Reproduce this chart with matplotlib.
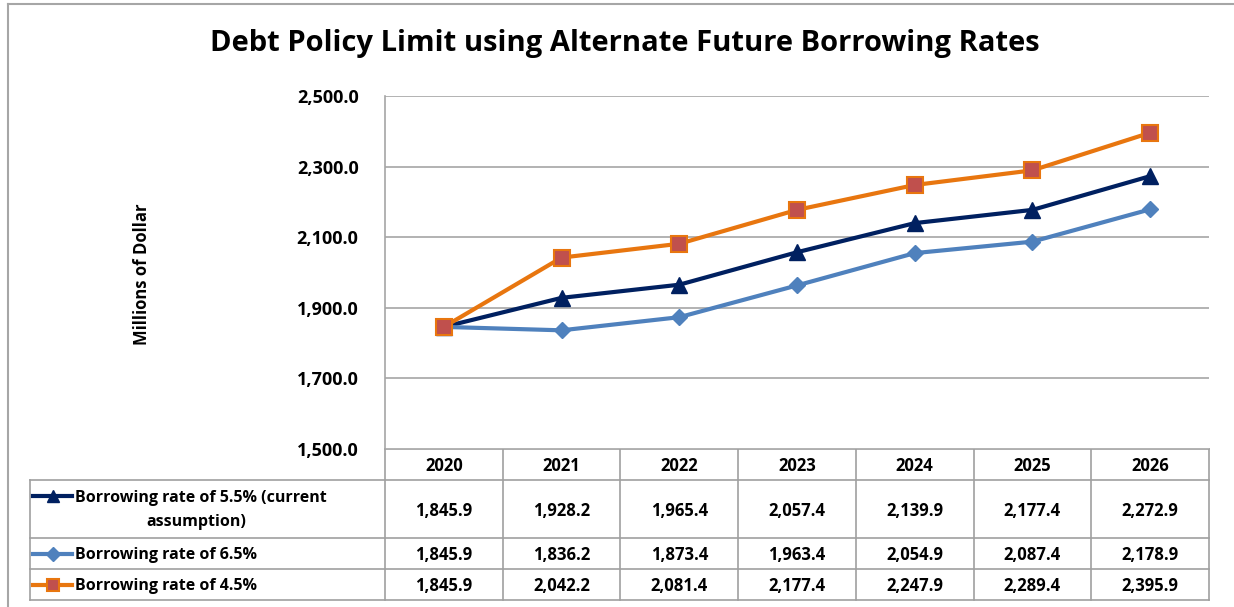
import matplotlib
matplotlib.use('Agg')
from matplotlib import pyplot as plt
from matplotlib.lines import Line2D
import numpy as np

plt.rcParams['font.family'] = ['Open Sans', 'DejaVu Sans']
plt.rcParams['font.weight'] = 'bold'

years = ['2020', '2021', '2022', '2023', '2024', '2025', '2026']
rate_55 = [1845.9, 1928.2, 1965.4, 2057.4, 2139.9, 2177.4, 2272.9]
rate_65 = [1845.9, 1836.2, 1873.4, 1963.4, 2054.9, 2087.4, 2178.9]
rate_45 = [1845.9, 2042.2, 2081.4, 2177.4, 2247.9, 2289.4, 2395.9]
labels = ['Borrowing rate of 5.5% (current\nassumption)',
          'Borrowing rate of 6.5%',
          'Borrowing rate of 4.5%']
y_ticks = [1500, 1700, 1900, 2100, 2300, 2500]

W, H = 1234, 607
fig = plt.figure(figsize=(W / 100, H / 100), dpi=100)

# whole-figure pixel axes for border and table
bg = fig.add_axes([0, 0, 1, 1])
bg.set_xlim(0, W)
bg.set_ylim(H, 0)
bg.axis('off')

grey = '#a6a6a6'
bg.plot([8, W + 5, W + 5, 8, 8], [4, 4, H + 5, H + 5, 4], color=grey, lw=1.5, clip_on=False)

# plot area
x0, x1, ytop, ybot = 385, 1209, 96, 449
ax = fig.add_axes([x0 / W, 1 - ybot / H, (x1 - x0) / W, (ybot - ytop) / H])
ax.set_xlim(-0.5, len(years) - 0.5)
ax.set_ylim(1500, 2500)
ax.set_yticks(y_ticks)
ax.set_yticklabels([f'{v:,.1f}' for v in y_ticks], fontsize=13, fontweight='bold')
ax.tick_params(axis='y', length=0, pad=19)
ax.set_xticks([])
ax.grid(axis='y', color=grey, lw=1.2)
for s in ['top', 'right', 'bottom']:
    ax.spines[s].set_visible(False)
ax.spines['left'].set_color(grey)
ax.spines['left'].set_linewidth(1.2)

series = [
    (rate_55, dict(color='#002060', marker='^', ms=11, mfc='#002060', mec='#002060')),
    (rate_65, dict(color='#4f81bd', marker='D', ms=8.5, mfc='#4f81bd', mec='#4f81bd')),
    (rate_45, dict(color='#e8760f', marker='s', ms=11, mfc='#c0504d', mec='#e8760f', mew=1.5)),
]
xs = np.arange(len(years))
for vals, st in series:
    ax.plot(xs, vals, lw=3, clip_on=False, zorder=3, **st)

fig.text(625 / W, 1 - 43 / H, 'Debt Policy Limit using Alternate Future Borrowing Rates',
         ha='center', va='center', fontsize=21, fontweight='bold')
fig.text(142 / W, 1 - 274 / H, 'Millions of Dollar', rotation=90,
         ha='center', va='center', fontsize=12, fontweight='bold')

# data table
col_w = (x1 - x0) / len(years)
rows = [449, 480, 538, 569, 600]
tab_left = 30
lc = '#a0a0a0'
bg.plot([x0, x1], [rows[0], rows[0]], color=lc, lw=1.2)
for yy in rows[1:]:
    bg.plot([tab_left, x1], [yy, yy], color=lc, lw=1.2)
bg.plot([tab_left, tab_left], [rows[1], rows[-1]], color=lc, lw=1.2)
for i in range(len(years) + 1):
    xx = x0 + i * col_w
    bg.plot([xx, xx], [rows[0], rows[-1]], color=lc, lw=1.2)

fs = 12
dy = 1.5  # small downward nudge so digits sit mid-cell
for i, yr in enumerate(years):
    bg.text(x0 + (i + 0.5) * col_w, (rows[0] + rows[1]) / 2 + dy, yr,
            ha='center', va='center', fontsize=fs, fontweight='bold')

for r, ((vals, st), lab) in enumerate(zip(series, labels)):
    yc = (rows[r + 1] + rows[r + 2]) / 2
    for i, v in enumerate(vals):
        bg.text(x0 + (i + 0.5) * col_w, yc + dy, f'{v:,.1f}',
                ha='center', va='center', fontsize=fs, fontweight='bold')
    ly = rows[r + 1] + 16 if r == 0 else yc
    small = dict(st)
    small['ms'] = st['ms'] * 0.8
    bg.add_line(Line2D([33, 72], [ly, ly], lw=3, **{k: v for k, v in small.items() if k != 'marker'}))
    bg.plot([52.5], [ly], linestyle='none', **small)
    if r == 0:
        bg.text(75, ly + dy, 'Borrowing rate of 5.5% (current', ha='left', va='center',
                fontsize=11.5, fontweight='bold')
        bg.text(196, ly + 25 + dy, 'assumption)', ha='center', va='center',
                fontsize=11.5, fontweight='bold')
    else:
        bg.text(75, ly + dy, lab, ha='left', va='center', fontsize=11.5, fontweight='bold')

fig.savefig('out.png', dpi=100)
